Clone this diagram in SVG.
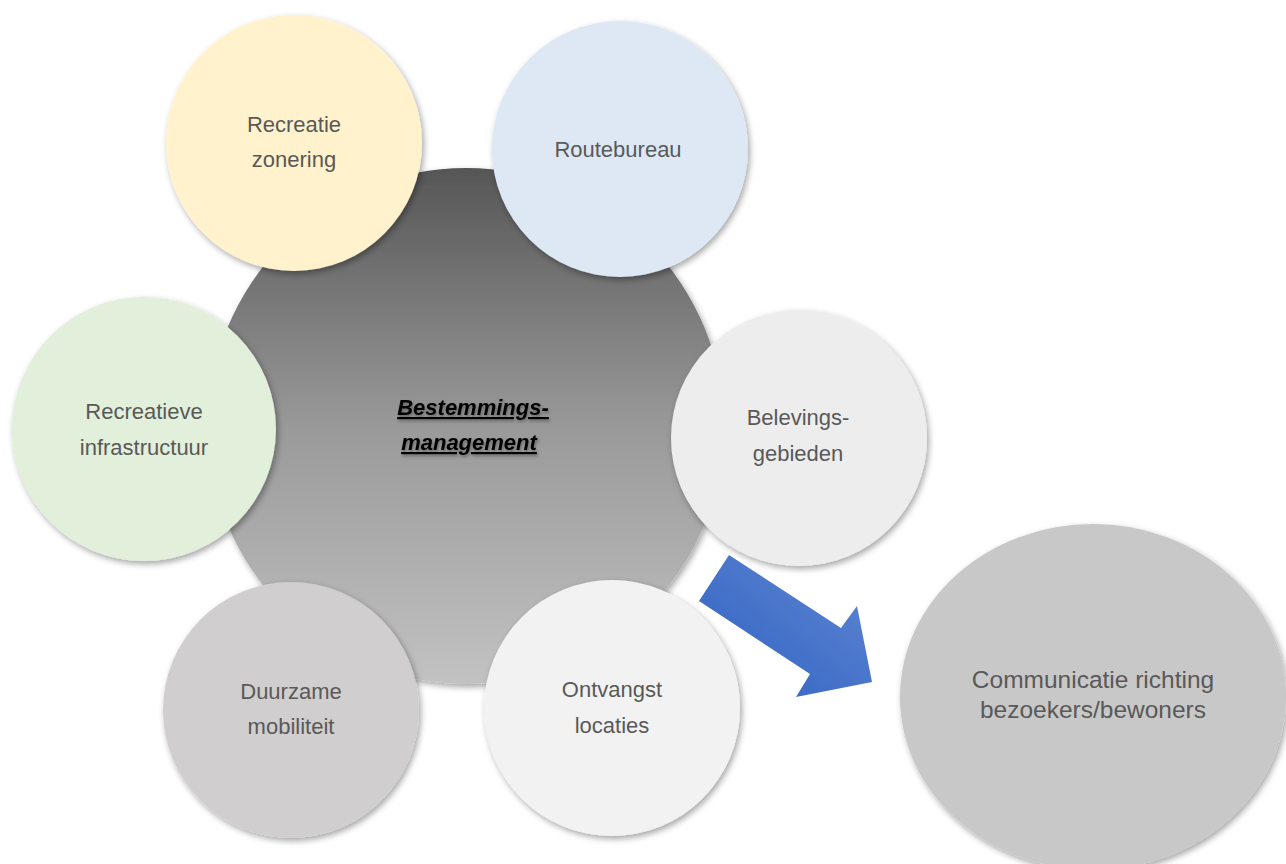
<svg xmlns="http://www.w3.org/2000/svg" width="1286" height="864" viewBox="0 0 1286 864">
<defs>
<linearGradient id="gCenter" x1="0" y1="0" x2="0" y2="1">
<stop offset="0" stop-color="#565656"/>
<stop offset="0.5" stop-color="#999999"/>
<stop offset="1" stop-color="#c2c2c2"/>
</linearGradient>
<linearGradient id="gArrow" x1="1" y1="0" x2="0" y2="1">
<stop offset="0" stop-color="#6088d2"/>
<stop offset="1" stop-color="#2f60c2"/>
</linearGradient>
<filter id="sh" x="-20%" y="-20%" width="140%" height="140%">
<feDropShadow dx="2" dy="3" stdDeviation="3" flood-color="#000" flood-opacity="0.35"/>
</filter>
<filter id="tsh" x="-20%" y="-40%" width="140%" height="180%">
<feDropShadow dx="1" dy="2" stdDeviation="1.5" flood-color="#000" flood-opacity="0.35"/>
</filter>
</defs>
<style>
.lbl{font-family:"Liberation Sans",Arial,sans-serif;font-size:22px;fill:#595959;text-anchor:middle}
.big{font-size:24.5px}
.ctr{font-family:"Liberation Sans",Arial,sans-serif;font-size:22px;font-weight:bold;font-style:italic;text-decoration:underline;fill:#000;text-anchor:middle}
.c{filter:url(#sh)}
</style>
<rect width="1286" height="864" fill="#ffffff"/>
<g id="center">
<circle class="c" cx="466" cy="426" r="258" fill="url(#gCenter)"/>
<text class="ctr" x="473" y="415" filter="url(#tsh)">Bestemmings-</text>
<text class="ctr" x="469" y="450" filter="url(#tsh)">management</text>
</g>
<g id="recreatie-zonering">
<circle class="c" cx="294" cy="143" r="128" fill="#fff2cc"/>
<text class="lbl" x="294" y="132">Recreatie</text>
<text class="lbl" x="294" y="167">zonering</text>
</g>
<g id="routebureau">
<circle class="c" cx="620" cy="149" r="128" fill="#dee8f5"/>
<text class="lbl" x="618" y="157">Routebureau</text>
</g>
<g id="recreatieve-infrastructuur">
<circle class="c" cx="144" cy="429" r="132" fill="#e2efda"/>
<text class="lbl" x="144" y="419">Recreatieve</text>
<text class="lbl" x="144" y="455">infrastructuur</text>
</g>
<g id="belevingsgebieden">
<circle class="c" cx="799" cy="438" r="128" fill="#ededed"/>
<text class="lbl" x="798" y="425">Belevings-</text>
<text class="lbl" x="798" y="461">gebieden</text>
</g>
<g id="duurzame-mobiliteit">
<circle class="c" cx="291" cy="710" r="128" fill="#d0cece"/>
<text class="lbl" x="291" y="699">Duurzame</text>
<text class="lbl" x="291" y="734">mobiliteit</text>
</g>
<g id="ontvangst-locaties">
<circle class="c" cx="612" cy="708" r="128" fill="#f2f2f2"/>
<text class="lbl" x="612" y="697">Ontvangst</text>
<text class="lbl" x="612" y="733">locaties</text>
</g>
<g id="communicatie">
<ellipse class="c" cx="1093" cy="697" rx="193" ry="173" fill="#c8c8c8"/>
<text class="lbl big" x="1093" y="688">Communicatie richting</text>
<text class="lbl big" x="1093" y="718">bezoekers/bewoners</text>
</g>
<g id="connectors">
<polygon points="729,555 841,628 857,606 872,682 796,697 810,674 699,601" fill="url(#gArrow)"/>
</g>
</svg>
